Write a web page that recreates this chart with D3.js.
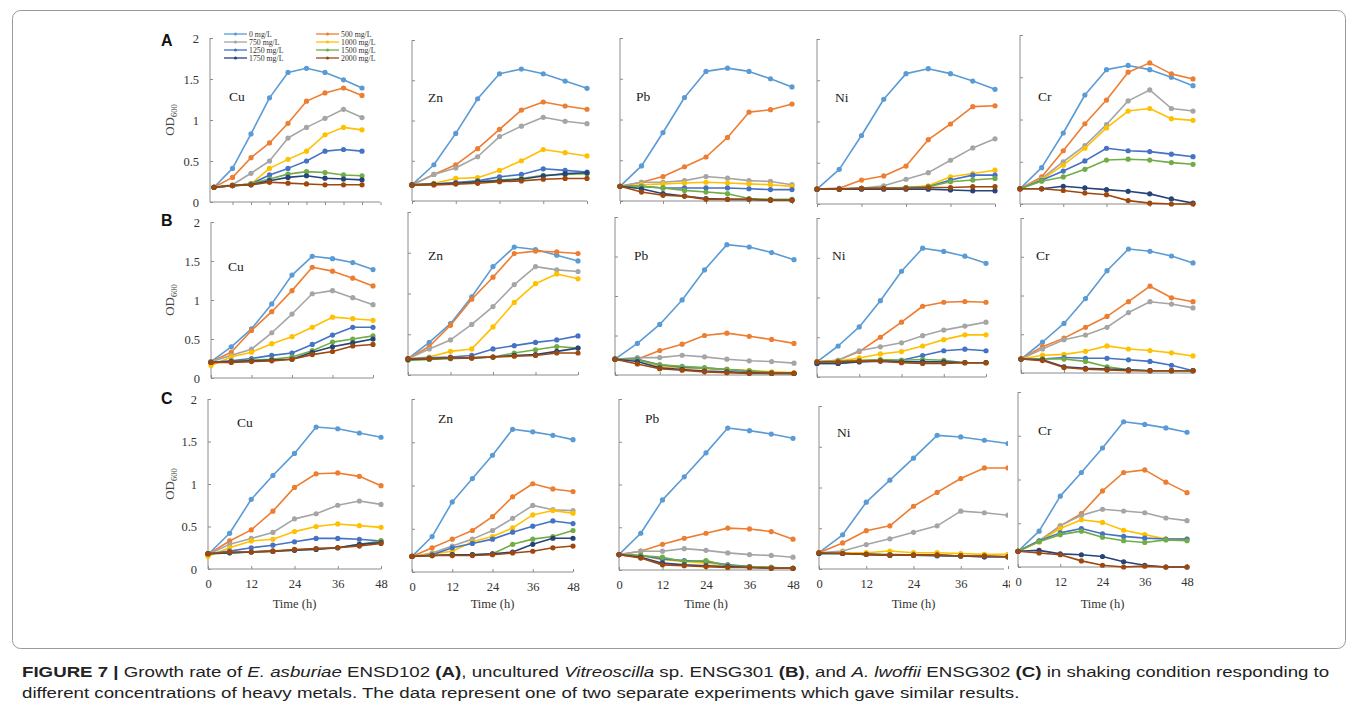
<!DOCTYPE html>
<html><head><meta charset="utf-8">
<script src="https://cdn.jsdelivr.net/npm/d3@7"></script>
<style>body{margin:0;background:#fff}svg{display:block}</style>
</head><body>
<svg id="chart" width="1358" height="707"></svg>
<script>
// ---------------- DATA ----------------
const hours = [0, 6, 12, 18, 24, 30, 36, 42, 48];
const concentrations = ["0 mg/L","500 mg/L","750 mg/L","1000 mg/L","1250 mg/L","1500 mg/L","1750 mg/L","2000 mg/L"];
const metals = ["Cu", "Zn", "Pb", "Ni", "Cr"];
const rowLetters = ["A", "B", "C"];
const yTickValues = [0, 0.5, 1, 1.5, 2];
const yTickLabels = ["0", "0.5", "1", "1.5", "2"];
const xTickValues = [0, 12, 24, 36, 48];
const xTickLabels = ["0", "12", "24", "36", "48"];

// each array: 8 series (0,500,750,1000,1250,1500,1750,2000 mg/L) x 9 time points
const A_Cu = [
 [0.18,0.41,0.83,1.27,1.58,1.63,1.58,1.49,1.39],
 [0.18,0.30,0.54,0.72,0.96,1.23,1.33,1.39,1.30],
 [0.18,0.21,0.35,0.50,0.78,0.91,1.02,1.13,1.03],
 [0.18,0.20,0.22,0.41,0.52,0.62,0.82,0.91,0.88],
 [0.18,0.20,0.22,0.33,0.41,0.50,0.62,0.64,0.62],
 [0.18,0.20,0.22,0.28,0.34,0.37,0.36,0.33,0.32],
 [0.18,0.20,0.21,0.26,0.30,0.32,0.29,0.28,0.27],
 [0.18,0.20,0.21,0.24,0.23,0.22,0.21,0.21,0.21]];
const A_Zn = [
 [0.20,0.45,0.84,1.27,1.58,1.64,1.58,1.49,1.40],
 [0.20,0.33,0.45,0.65,0.89,1.13,1.23,1.18,1.14],
 [0.20,0.33,0.41,0.55,0.80,0.93,1.04,0.99,0.96],
 [0.20,0.22,0.28,0.29,0.38,0.50,0.64,0.60,0.56],
 [0.20,0.21,0.23,0.25,0.30,0.33,0.40,0.38,0.36],
 [0.20,0.21,0.22,0.24,0.26,0.28,0.32,0.33,0.34],
 [0.20,0.21,0.22,0.24,0.25,0.27,0.31,0.34,0.35],
 [0.20,0.20,0.21,0.22,0.24,0.25,0.27,0.28,0.28]];
const A_Pb = [
 [0.18,0.43,0.84,1.27,1.59,1.63,1.59,1.50,1.40],
 [0.18,0.23,0.30,0.42,0.54,0.78,1.09,1.12,1.19],
 [0.18,0.23,0.23,0.25,0.30,0.28,0.25,0.24,0.20],
 [0.18,0.20,0.21,0.22,0.23,0.22,0.21,0.20,0.18],
 [0.18,0.18,0.16,0.16,0.16,0.16,0.15,0.14,0.14],
 [0.18,0.18,0.16,0.13,0.11,0.09,0.03,0.02,0.02],
 [0.18,0.15,0.09,0.06,0.03,0.02,0.02,0.01,0.01],
 [0.18,0.11,0.07,0.06,0.02,0.02,0.02,0.01,0.01]];
const A_Ni = [
 [0.18,0.42,0.83,1.27,1.58,1.64,1.58,1.49,1.39],
 [0.18,0.19,0.29,0.34,0.46,0.78,0.97,1.18,1.19],
 [0.18,0.19,0.19,0.22,0.30,0.38,0.53,0.68,0.79],
 [0.18,0.18,0.19,0.19,0.20,0.22,0.33,0.37,0.41],
 [0.18,0.18,0.19,0.19,0.20,0.21,0.29,0.35,0.35],
 [0.18,0.18,0.19,0.19,0.20,0.21,0.27,0.29,0.31],
 [0.18,0.18,0.18,0.18,0.18,0.18,0.17,0.16,0.16],
 [0.18,0.18,0.19,0.19,0.19,0.20,0.20,0.21,0.21]];
const A_Cr = [
 [0.18,0.43,0.84,1.29,1.59,1.64,1.59,1.50,1.40],
 [0.18,0.32,0.63,0.95,1.23,1.56,1.67,1.54,1.48],
 [0.18,0.30,0.50,0.69,0.94,1.22,1.35,1.13,1.10],
 [0.18,0.29,0.46,0.66,0.90,1.10,1.13,1.01,0.99],
 [0.18,0.28,0.39,0.51,0.66,0.63,0.62,0.59,0.56],
 [0.18,0.27,0.32,0.41,0.52,0.53,0.52,0.49,0.47],
 [0.18,0.18,0.21,0.19,0.17,0.15,0.12,0.06,0.01],
 [0.18,0.18,0.16,0.13,0.11,0.04,0.01,0.00,0.00]];
const B_Cu = [
 [0.21,0.40,0.63,0.95,1.32,1.56,1.53,1.48,1.39],
 [0.21,0.33,0.61,0.85,1.12,1.42,1.37,1.28,1.18],
 [0.21,0.29,0.37,0.58,0.82,1.08,1.12,1.03,0.94],
 [0.16,0.27,0.33,0.44,0.53,0.65,0.78,0.76,0.74],
 [0.20,0.22,0.25,0.29,0.32,0.43,0.55,0.65,0.65],
 [0.20,0.21,0.23,0.24,0.27,0.35,0.46,0.50,0.54],
 [0.20,0.21,0.22,0.23,0.24,0.33,0.40,0.45,0.50],
 [0.20,0.20,0.21,0.22,0.24,0.30,0.34,0.41,0.43]];
const B_Zn = [
 [0.20,0.40,0.63,0.96,1.33,1.57,1.54,1.47,1.40],
 [0.20,0.35,0.61,0.93,1.20,1.49,1.52,1.51,1.49],
 [0.20,0.32,0.43,0.62,0.84,1.11,1.33,1.29,1.27],
 [0.20,0.22,0.29,0.32,0.59,0.89,1.12,1.24,1.18],
 [0.20,0.21,0.22,0.24,0.32,0.36,0.40,0.43,0.48],
 [0.18,0.19,0.20,0.21,0.22,0.27,0.31,0.35,0.33],
 [0.19,0.20,0.21,0.21,0.22,0.24,0.25,0.29,0.33],
 [0.20,0.20,0.21,0.21,0.22,0.23,0.24,0.27,0.27]];
const B_Pb = [
 [0.20,0.40,0.64,0.95,1.33,1.65,1.62,1.55,1.46],
 [0.20,0.20,0.31,0.39,0.50,0.53,0.49,0.45,0.40],
 [0.20,0.22,0.22,0.25,0.23,0.20,0.18,0.17,0.15],
 [0.20,0.20,0.11,0.09,0.08,0.07,0.06,0.04,0.03],
 [0.20,0.20,0.13,0.10,0.09,0.07,0.05,0.03,0.02],
 [0.20,0.19,0.13,0.11,0.09,0.07,0.05,0.03,0.02],
 [0.20,0.17,0.09,0.07,0.05,0.04,0.03,0.02,0.02],
 [0.20,0.14,0.08,0.06,0.04,0.03,0.02,0.02,0.02]];
const B_Ni = [
 [0.19,0.39,0.63,0.96,1.33,1.62,1.58,1.52,1.43],
 [0.19,0.21,0.32,0.50,0.69,0.89,0.94,0.95,0.94],
 [0.19,0.21,0.33,0.38,0.43,0.52,0.59,0.64,0.69],
 [0.19,0.20,0.24,0.29,0.32,0.39,0.47,0.53,0.53],
 [0.17,0.17,0.20,0.21,0.21,0.27,0.33,0.35,0.33],
 [0.19,0.20,0.21,0.22,0.21,0.22,0.21,0.18,0.18],
 [0.17,0.17,0.19,0.20,0.19,0.19,0.19,0.18,0.18],
 [0.19,0.19,0.20,0.20,0.18,0.17,0.17,0.18,0.18]];
const B_Cr = [
 [0.18,0.40,0.64,0.96,1.32,1.60,1.57,1.51,1.42],
 [0.18,0.34,0.45,0.59,0.73,0.92,1.12,0.97,0.92],
 [0.18,0.31,0.43,0.49,0.59,0.78,0.92,0.89,0.84],
 [0.18,0.23,0.24,0.28,0.35,0.31,0.29,0.26,0.22],
 [0.18,0.18,0.20,0.19,0.19,0.17,0.15,0.10,0.03],
 [0.18,0.18,0.18,0.15,0.08,0.04,0.03,0.03,0.03],
 [0.18,0.17,0.08,0.06,0.05,0.04,0.03,0.03,0.03],
 [0.18,0.16,0.07,0.05,0.04,0.03,0.03,0.03,0.03]];
const C_Cu = [
 [0.17,0.42,0.82,1.10,1.36,1.67,1.65,1.60,1.55],
 [0.17,0.33,0.46,0.68,0.96,1.12,1.13,1.09,0.98],
 [0.17,0.29,0.36,0.43,0.59,0.65,0.75,0.80,0.76],
 [0.15,0.25,0.33,0.35,0.44,0.50,0.53,0.51,0.49],
 [0.18,0.21,0.25,0.28,0.32,0.36,0.36,0.35,0.33],
 [0.18,0.19,0.20,0.21,0.22,0.24,0.25,0.29,0.33],
 [0.18,0.19,0.20,0.21,0.22,0.23,0.25,0.29,0.31],
 [0.18,0.20,0.20,0.21,0.23,0.24,0.25,0.27,0.30]];
const C_Zn = [
 [0.18,0.41,0.81,1.08,1.35,1.65,1.62,1.58,1.53],
 [0.18,0.28,0.38,0.48,0.64,0.87,1.02,0.96,0.93],
 [0.18,0.22,0.30,0.38,0.48,0.62,0.77,0.72,0.71],
 [0.18,0.21,0.24,0.35,0.41,0.51,0.66,0.71,0.68],
 [0.18,0.20,0.28,0.33,0.38,0.46,0.53,0.59,0.56],
 [0.18,0.19,0.20,0.20,0.21,0.32,0.38,0.41,0.48],
 [0.18,0.19,0.20,0.20,0.21,0.23,0.32,0.39,0.39],
 [0.18,0.19,0.19,0.19,0.20,0.22,0.24,0.28,0.30]];
const C_Pb = [
 [0.18,0.43,0.82,1.09,1.37,1.66,1.63,1.59,1.54],
 [0.18,0.22,0.30,0.37,0.43,0.49,0.48,0.45,0.36],
 [0.18,0.22,0.22,0.25,0.23,0.20,0.18,0.17,0.15],
 [0.18,0.17,0.12,0.10,0.08,0.06,0.04,0.03,0.02],
 [0.18,0.17,0.13,0.11,0.10,0.06,0.04,0.03,0.02],
 [0.18,0.17,0.15,0.10,0.11,0.05,0.04,0.03,0.02],
 [0.18,0.15,0.08,0.06,0.05,0.04,0.03,0.02,0.02],
 [0.18,0.14,0.06,0.05,0.04,0.03,0.03,0.02,0.02]];
const C_Ni = [
 [0.20,0.42,0.82,1.09,1.36,1.64,1.62,1.58,1.54],
 [0.20,0.32,0.47,0.53,0.77,0.94,1.11,1.24,1.24],
 [0.20,0.22,0.30,0.37,0.45,0.53,0.71,0.69,0.66],
 [0.20,0.20,0.20,0.22,0.20,0.20,0.19,0.18,0.18],
 [0.19,0.19,0.18,0.17,0.17,0.16,0.16,0.15,0.15],
 [0.19,0.19,0.18,0.18,0.17,0.17,0.16,0.16,0.15],
 [0.19,0.19,0.18,0.17,0.17,0.17,0.16,0.15,0.15],
 [0.20,0.19,0.18,0.17,0.17,0.17,0.16,0.16,0.15]];
const C_Cr = [
 [0.18,0.41,0.81,1.08,1.36,1.66,1.63,1.59,1.54],
 [0.18,0.29,0.47,0.61,0.87,1.08,1.11,0.97,0.85],
 [0.18,0.30,0.47,0.59,0.66,0.64,0.62,0.56,0.53],
 [0.18,0.29,0.44,0.54,0.51,0.42,0.37,0.32,0.32],
 [0.18,0.30,0.39,0.44,0.38,0.35,0.33,0.32,0.32],
 [0.18,0.29,0.37,0.41,0.34,0.30,0.28,0.31,0.30],
 [0.18,0.19,0.15,0.14,0.12,0.06,0.02,0.00,0.00],
 [0.18,0.16,0.14,0.07,0.02,0.00,0.01,0.00,0.00]];
const panelData = [
 [A_Cu, A_Zn, A_Pb, A_Ni, A_Cr],
 [B_Cu, B_Zn, B_Pb, B_Ni, B_Cr],
 [C_Cu, C_Zn, C_Pb, C_Ni, C_Cr]];

// ---------------- LAYOUT / STYLE ----------------
const colors = ["#5B9BD5","#ED7D31","#A5A5A5","#FFC000","#4472C4","#70AD47","#264478","#9E480E"];
// [x at 0 h, x at 48 h, y at OD 0, y at OD 2, axis right end]
const geom = [
 [[214,362,202,38,380],[412,587,201,40,587],[620,792,201,38,792],[817,995,204,39,995],[1020,1193,204,35,1193]],
 [[211,373,378,222,373],[408,578,375,212,578],[615,794,375,217,794],[817,986,377,218,986],[1021,1193,373,218,1193]],
 [[208,381,569,399,381],[412,573,572,399,573],[619,793,570,399,793],[819,1008,569,406,1004],[1018,1187,567,392,1187]]];
const labelPos = [
 [[229,101],[428,102],[636,101],[835,102],[1038,101]],
 [[228,271],[428,260],[634,260],[832,260],[1036,260]],
 [[237,427],[438,423],[645,423],[837,437],[1038,435]]];
const rowLetterY = [46, 226, 404];
const axisColor = "#8c8c8c";
const serif = "'Liberation Serif','Times New Roman',serif";

const svg = d3.select("#chart");

// figure frame
svg.append("rect").attr("x",12.5).attr("y",10.5).attr("width",1333).attr("height",638)
  .attr("rx",8).attr("fill","none").attr("stroke","#9a9a9a").attr("stroke-width",1);

const defs = svg.append("defs");

panelData.forEach((row, r) => {
  row.forEach((panel, c) => {
    const [x0, x48, y0, y2, axR] = geom[r][c];
    const x = d3.scaleLinear().domain([0,48]).range([x0, x48]);
    const y = d3.scaleLinear().domain([0,2]).range([y0, y2]);
    const g = svg.append("g");
    const clipId = `clip${r}${c}`;
    defs.append("clipPath").attr("id", clipId).append("rect")
      .attr("x", x0 - 6).attr("y", y2 - 10).attr("width", axR - x0 + 10).attr("height", y0 - y2 + 20);
    // clip for the x-axis group (its own coordinates are translated to y0)
    const labClipId = `lclip${r}${c}`;
    defs.append("clipPath").attr("id", labClipId).append("rect")
      .attr("x", x0 - 20).attr("y", -10).attr("width", axR + 6 - (x0 - 20)).attr("height", 40);

    // y axis
    const yAxis = d3.axisLeft(y).tickValues(yTickValues).tickSize(-3)
      .tickFormat(c === 0 ? ((d, i) => yTickLabels[i]) : () => "");
    const ya = g.append("g").attr("transform", `translate(${x0 - (r===0&&c===0?4:0)},0)`).call(yAxis);
    ya.select(".domain").attr("stroke", axisColor).attr("d", `M0,${y0}V${y2}`);
    ya.selectAll(".tick line").attr("stroke", axisColor);
    ya.selectAll(".tick text").attr("x", -11).attr("font-family", serif).attr("font-size", 12.5).attr("fill", "#333");

    // x axis
    let xt = xTickValues;
    let xScaleAxis = x;
    if (r === 0 && c === 0) {
      xt = [6,12,18,24,30,36,42,48,54];
      xScaleAxis = d3.scaleLinear().domain([0,54]).range([x0, x(54)]);
    }
    const xAxis = d3.axisBottom(xScaleAxis).tickValues(xt).tickSize(r === 0 ? 3 : -3)
      .tickFormat(r === 2 ? ((d, i) => xTickLabels[i]) : () => "");
    const xa = g.append("g").attr("transform", `translate(0,${y0})`).call(xAxis);
    xa.select(".domain").attr("stroke", axisColor).attr("d", `M${x0 - (r===0&&c===0?4:0)},0H${axR}`);
    xa.selectAll(".tick line").attr("stroke", axisColor);
    xa.selectAll(".tick text").attr("y", 10).attr("font-family", serif).attr("font-size", 12.5).attr("fill", "#333");
    if (r === 2 && c === 3) xa.attr("clip-path", `url(#${labClipId})`);

    if (r === 2) {
      g.append("text").attr("x", (x0 + x48) / 2).attr("y", 608).attr("text-anchor", "middle")
        .attr("font-family", serif).attr("font-size", 12.5).attr("fill", "#333").text("Time (h)");
    }

    // series
    const plot = g.append("g").attr("clip-path", `url(#${clipId})`);
    const line = d3.line().x((d, i) => x(hours[i])).y(d => y(d));
    panel.forEach((vals, s) => {
      plot.append("path").attr("d", line(vals)).attr("fill", "none")
        .attr("stroke", colors[s]).attr("stroke-width", 1.6).attr("stroke-linejoin", "round");
      plot.selectAll(null).data(vals).enter().append("circle")
        .attr("cx", (d, i) => x(hours[i])).attr("cy", d => y(d)).attr("r", 2.6)
        .attr("fill", colors[s]);
    });

    // metal label
    g.append("text").attr("x", labelPos[r][c][0]).attr("y", labelPos[r][c][1])
      .attr("font-family", serif).attr("font-size", 13.5).attr("fill", "#222").text(metals[c]);
  });

  // y axis title
  const cy = (geom[r][0][2] + geom[r][0][3]) / 2;
  const yt = svg.append("text").attr("transform", `translate(174,${cy}) rotate(-90)`)
    .attr("text-anchor", "middle").attr("font-family", serif).attr("font-size", 13).attr("fill", "#444");
  yt.append("tspan").text("OD");
  yt.append("tspan").attr("font-size", 8.5).attr("dy", 3).text("600");

  // row letter
  svg.append("text").attr("x", 161).attr("y", rowLetterY[r]).attr("font-family", "'Liberation Sans',Arial,sans-serif")
    .attr("font-weight", "bold").attr("font-size", 16).attr("fill", "#111").text(rowLetters[r]);
});

// legend inside panel A Cu
const legendCols = [[224, 248], [316, 340]];
const legendRows = [34, 42, 50, 58];
concentrations.forEach((name, i) => {
  const col = legendCols[i % 2], ry = legendRows[Math.floor(i / 2)];
  svg.append("line").attr("x1", col[0]).attr("x2", col[1] - 1).attr("y1", ry).attr("y2", ry)
    .attr("stroke", colors[i]).attr("stroke-width", 1.3);
  svg.append("circle").attr("cx", (col[0] + col[1] - 1) / 2).attr("cy", ry).attr("r", 1.6).attr("fill", colors[i]);
  svg.append("text").attr("x", col[1] + 1).attr("y", ry + 2.5).attr("font-family", serif)
    .attr("font-size", 7.8).attr("fill", "#333").text(name);
});

// caption
const capFont = "'Liberation Sans',Arial,sans-serif";
function capLine(yPos, parts, targetW) {
  const t = svg.append("text").attr("x", 0).attr("y", 0).attr("font-family", capFont)
    .attr("font-size", 15.5).attr("fill", "#222");
  parts.forEach(p => {
    const ts = t.append("tspan").text(p.t);
    if (p.b) ts.attr("font-weight", "bold");
    if (p.i) ts.attr("font-style", "italic");
  });
  const w = t.node().getComputedTextLength();
  const s = targetW ? targetW / w : 1;
  t.attr("transform", `translate(22,${yPos}) scale(${s},1)`);
  return s;
}
const sc = capLine(677, [
  {t:"FIGURE 7 | ", b:true}, {t:"Growth rate of "}, {t:"E. asburiae", i:true}, {t:" ENSD102 "},
  {t:"(A)", b:true}, {t:", uncultured "}, {t:"Vitreoscilla", i:true}, {t:" sp. ENSG301 "}, {t:"(B)", b:true},
  {t:", and "}, {t:"A. lwoffii", i:true}, {t:" ENSG302 "}, {t:"(C)", b:true},
  {t:" in shaking condition responding to"}], 1309);
svg.append("text").attr("font-family", capFont).attr("font-size", 15.5).attr("fill", "#222")
  .attr("transform", `translate(22,698) scale(${sc},1)`)
  .text("different concentrations of heavy metals. The data represent one of two separate experiments which gave similar results.");
</script>
</body></html>
